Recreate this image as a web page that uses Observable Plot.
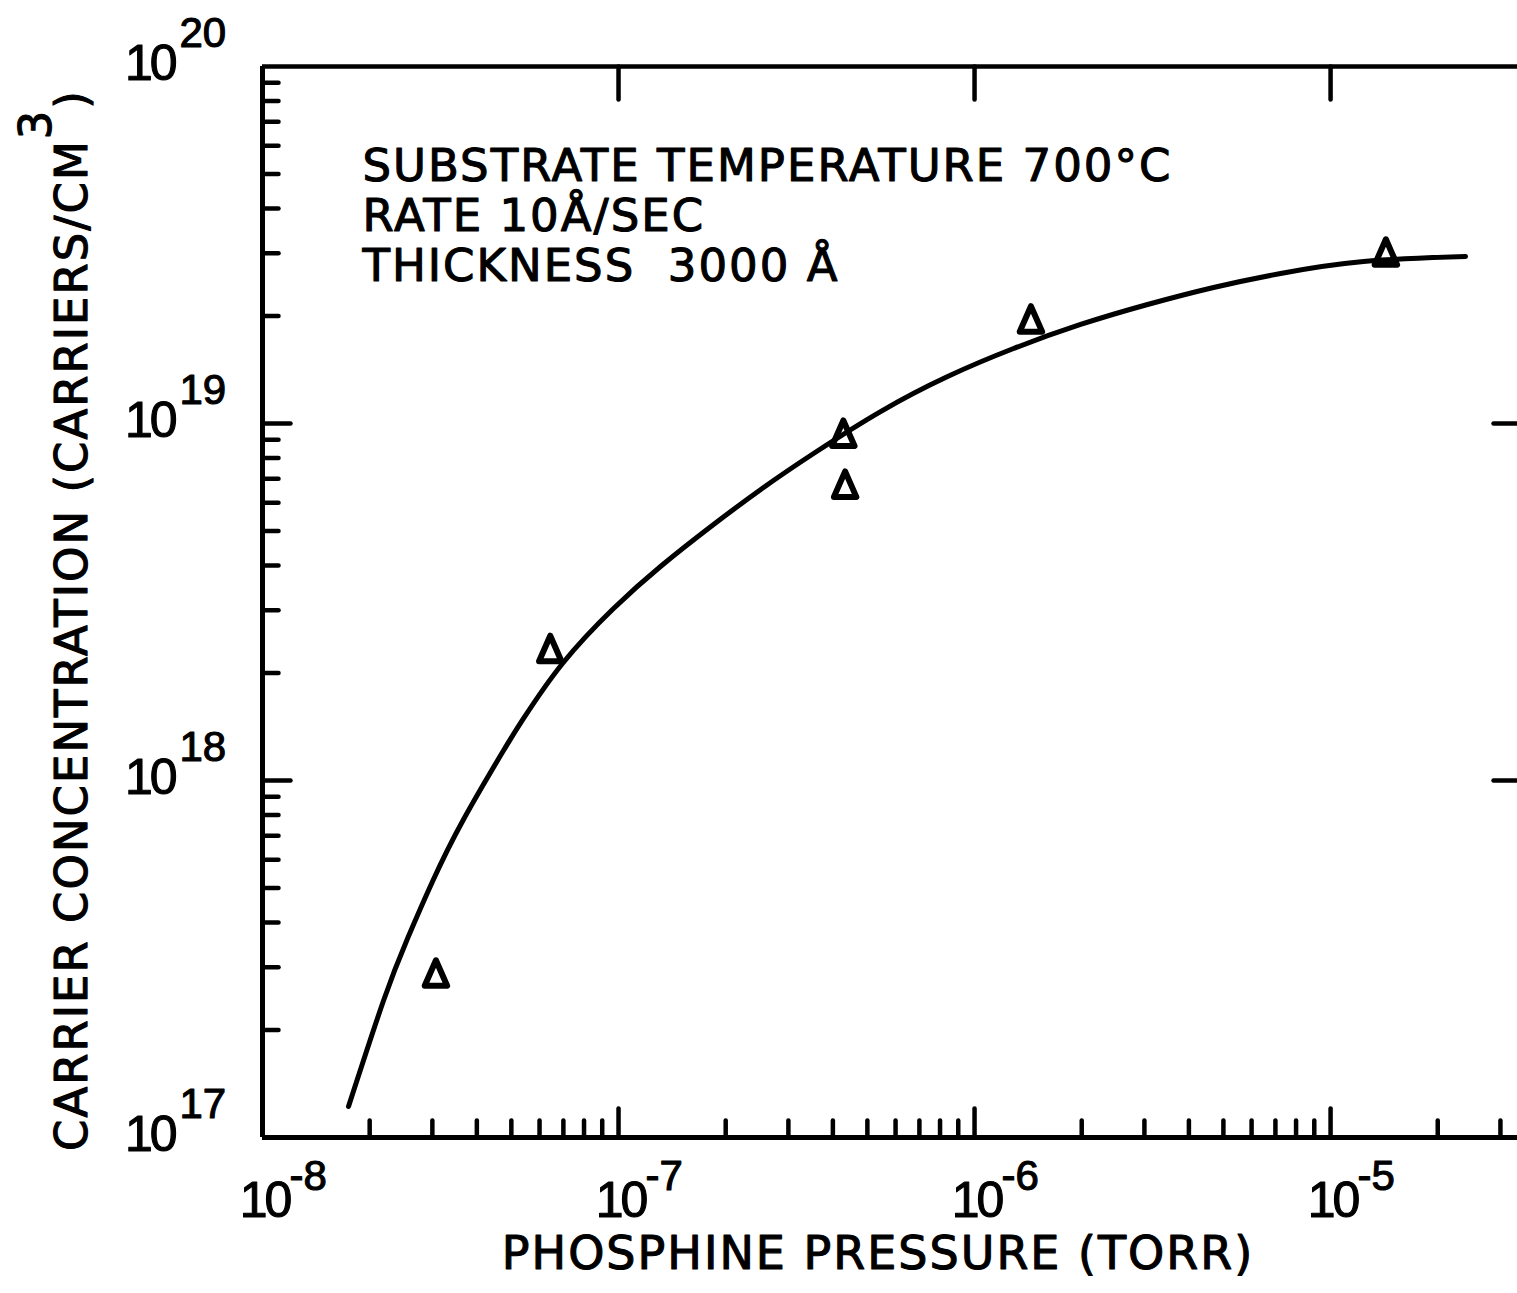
<!DOCTYPE html>
<html><head><meta charset="utf-8">
<script src="https://cdn.jsdelivr.net/npm/d3@7"></script>
<script src="https://cdn.jsdelivr.net/npm/@observablehq/plot@0.6"></script>
<style>html,body{margin:0;padding:0;background:#fff;}</style>
</head><body><div id="chart"></div>
<script>
// Smooth curve (pressure in Torr, carriers/cm^3)
const curvePressure = [1.744e-8, 2.188e-8, 2.555e-8, 3.003e-8, 3.669e-8, 4.753e-8, 5.410e-8, 6.961e-8, 9.683e-8, 1.312e-7, 1.849e-7, 2.555e-7, 3.530e-7, 5.445e-7, 8.402e-7, 1.287e-6, 1.986e-6, 3.062e-6, 4.692e-6, 7.238e-6, 1.238e-5, 2.394e-5];
const curveConc = [1.221e17, 2.420e17, 3.609e17, 5.214e17, 7.776e17, 1.213e18, 1.492e18, 2.127e18, 3.033e18, 3.977e18, 5.213e18, 6.619e18, 8.241e18, 1.080e19, 1.354e19, 1.622e19, 1.894e19, 2.154e19, 2.404e19, 2.632e19, 2.843e19, 2.936e19];
// Measured points (triangles)
const pointPressure = [3.07e-8, 6.43e-8, 4.28e-7, 4.33e-7, 1.44e-6, 1.43e-5];
const pointConc = [2.81e17, 2.28e18, 9.14e18, 6.58e18, 1.91e19, 2.94e19];
// Axis ticks
const xDecades = [1e-8, 1e-7, 1e-6, 1e-5];
const xExponents = ["-8", "-7", "-6", "-5"];
const xTopTicks = [1e-7, 1e-6, 1e-5];
const xMinorTicks = [2e-8,3e-8,4e-8,5e-8,6e-8,7e-8,8e-8,9e-8, 2e-7,3e-7,4e-7,5e-7,6e-7,7e-7,8e-7,9e-7, 2e-6,3e-6,4e-6,5e-6,6e-6,7e-6,8e-6,9e-6, 2e-5,3e-5];
const yDecades = [1e17, 1e18, 1e19, 1e20];
const yExponents = ["17", "18", "19", "20"];
const yRightTicks = [1e18, 1e19];
const yMinorTicks = [2e17,3e17,4e17,5e17,6e17,7e17,8e17,9e17, 2e18,3e18,4e18,5e18,6e18,7e18,8e18,9e18, 2e19,3e19,4e19,5e19,6e19,7e19,8e19,9e19];
const annotation = ["SUBSTRATE TEMPERATURE 700°C", "RATE 10Å/SEC", "THICKNESS  3000 Å"];
const xTitle = "PHOSPHINE PRESSURE (TORR)";
const yTitle = "CARRIER CONCENTRATION (CARRIERS/CM";
const yTitleSup = "3";

const curve = curvePressure.map((p, i) => ({p, c: curveConc[i]}));
const points = pointPressure.map((p, i) => ({p, c: pointConc[i]}));

const tickShape = {draw(ctx, l) { ctx.moveTo(0, 0); ctx.lineTo(0, -l); }};
const tri = {draw(ctx, size) {
  const s = Math.sqrt(size);
  const hw = 0.55 * s, h = 1.25 * s;
  ctx.moveTo(0, -2 * h / 3);
  ctx.lineTo(hw, h / 3);
  ctx.lineTo(-hw, h / 3);
  ctx.closePath();
}};
const tk = (data, key, frameAnchor, rotate, length) => Plot.vector(data, {
  [key]: d => d, frameAnchor, rotate, length, anchor: "start", shape: tickShape,
  strokeWidth: 4.5, strokeLinecap: "round"
});
const FONT = "'DejaVu Sans', sans-serif";
const NUMFONT = "'Liberation Sans', 'DejaVu Sans', sans-serif";
const bold = {fill: "black", stroke: "black", strokeWidth: 1.1};

const chart = Plot.plot({
  width: 1517, height: 1293,
  marginLeft: 262, marginRight: 0, marginTop: 66, marginBottom: 156,
  style: {fontFamily: FONT, background: "white", color: "black", letterSpacing: "2px"},
  x: {type: "log", domain: [1e-8, 3.35e-5], axis: null},
  y: {type: "log", domain: [1e17, 1e20], axis: null},
  marks: [
    Plot.ruleX([1e-8], {strokeWidth: 5}),
    Plot.ruleY([1e17], {strokeWidth: 5}),
    Plot.ruleY([1e20], {strokeWidth: 4.5}),
    tk(xMinorTicks, "x", "bottom", 0, 17),
    tk(xDecades.slice(1), "x", "bottom", 0, 29),
    tk(xTopTicks, "x", "top", 180, 33),
    tk(yMinorTicks, "y", "left", 90, 16),
    tk(yDecades.slice(1, 3), "y", "left", 90, 28),
    tk(yRightTicks, "y", "right", -90, 24),
    // x tick labels
    Plot.text(xDecades, {x: d => d, text: () => "10", frameAnchor: "bottom", lineAnchor: "bottom", dy: 79, dx: 2, fontSize: 50, fontFamily: NUMFONT, textAnchor: "middle", ...bold}),
    Plot.text(xDecades, {x: d => d, text: (d, i) => xExponents[i], frameAnchor: "bottom", lineAnchor: "bottom", dy: 52, dx: 27, fontSize: 42, fontFamily: NUMFONT, textAnchor: "start", ...bold}),
    // y tick labels
    Plot.text(yDecades, {y: d => d, text: () => "10", frameAnchor: "left", lineAnchor: "bottom", dy: 13, dx: -88, fontSize: 50, fontFamily: NUMFONT, textAnchor: "end", ...bold}),
    Plot.text(yDecades, {y: d => d, text: (d, i) => yExponents[i], frameAnchor: "left", lineAnchor: "bottom", dy: -20, dx: -83, fontSize: 42, fontFamily: NUMFONT, textAnchor: "start", ...bold}),
    // titles
    Plot.text([xTitle], {text: d => d, frameAnchor: "bottom", lineAnchor: "bottom", dy: 131, dx: -12, fontSize: 46, textAnchor: "middle", ...bold}),
    Plot.text([yTitle], {text: d => d, frameAnchor: "left", lineAnchor: "bottom", rotate: -90, dx: -176, dy: 18, fontSize: 45, textAnchor: "middle", ...bold}),
    // annotation
    Plot.text([annotation.join("\n")], {text: d => d, frameAnchor: "top-left", lineAnchor: "top", dx: 100, dy: 79, fontSize: 45, lineHeight: 1.11, textAnchor: "start", ...bold}),
    // data
    Plot.line(curve, {x: "p", y: "c", curve: "natural", strokeWidth: 5, strokeLinecap: "round"}),
    Plot.dot(points, {x: "p", y: "c", symbol: tri, r: 11.5, stroke: "black", fill: "none", strokeWidth: 6, strokeLinejoin: "round"})
  ]
});
// superscript on the y title, tighter numerals on tick labels
const ns = "http://www.w3.org/2000/svg";
for (const t of chart.querySelectorAll("text")) {
  if (t.textContent === yTitle) {
    const s1 = document.createElementNS(ns, "tspan");
    s1.setAttribute("dy", "-0.8em"); s1.textContent = yTitleSup;
    const s2 = document.createElementNS(ns, "tspan");
    s2.setAttribute("dy", "0.8em"); s2.textContent = ")";
    t.appendChild(s1); t.appendChild(s2);
  }
  if (t.textContent === "10") t.style.letterSpacing = "-3px";
  else if (xExponents.includes(t.textContent) || yExponents.includes(t.textContent)) t.style.letterSpacing = "0px";
}
chart.querySelectorAll("text, tspan").forEach(t => t.style.whiteSpace = "pre");
document.getElementById("chart").appendChild(chart);
</script>
</body></html>
